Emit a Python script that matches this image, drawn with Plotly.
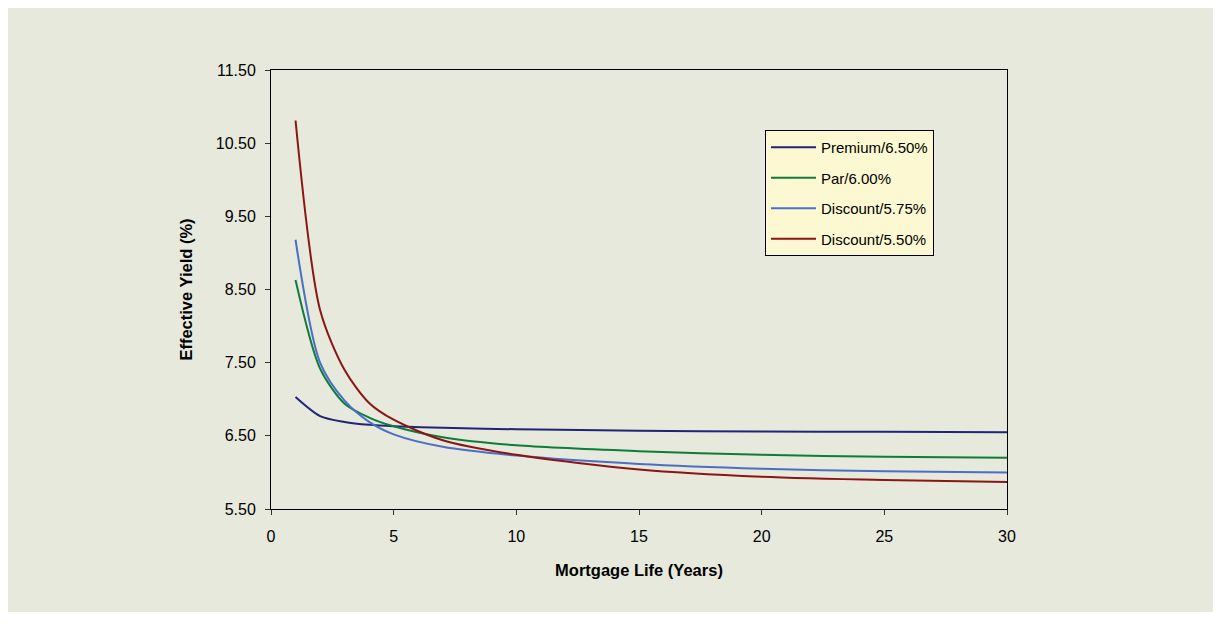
import plotly.graph_objects as go

years = [1, 2, 3, 4, 5, 7, 10, 15, 20, 25, 30]
premium_650 = [7.03, 6.77, 6.69, 6.65, 6.63, 6.61, 6.59, 6.57, 6.56, 6.555, 6.55]
par_600 = [8.63, 7.42, 6.94, 6.75, 6.63, 6.48, 6.37, 6.29, 6.24, 6.215, 6.20]
discount_575 = [9.18, 7.50, 6.98, 6.69, 6.52, 6.35, 6.23, 6.115, 6.05, 6.015, 6.00]
discount_550 = [10.81, 8.22, 7.40, 6.95, 6.72, 6.44, 6.24, 6.04, 5.94, 5.895, 5.87]

series_names = ["Premium/6.50%", "Par/6.00%", "Discount/5.75%", "Discount/5.50%"]
series_values = [premium_650, par_600, discount_575, discount_550]
series_colors = ["#23237A", "#0E7D3B", "#4A6FC4", "#8B1515"]

x_ticks = [0, 5, 10, 15, 20, 25, 30]
y_ticks = [5.5, 6.5, 7.5, 8.5, 9.5, 10.5, 11.5]

FONT = "Liberation Sans, Arial, sans-serif"

fig = go.Figure()
for i, (name, vals, col) in enumerate(zip(series_names, series_values, series_colors)):
    fig.add_trace(go.Scatter(
        x=years, y=vals, name=name, mode="lines",
        line=dict(color=col, width=2, shape="spline", smoothing=0.8),
        legendgroup=f"g{i}",
    ))

# page body adds an 8px offset, so figure coordinates are screen - 8
OFF = 8
W, H = 1221 - OFF, 625 - OFF
L, R, T, B = 271 - OFF, 1007 - OFF, 70 - OFF, 509 - OFF
pw, ph = R - L, B - T

fig.add_shape(
    type="rect", xref="paper", yref="paper", layer="below",
    x0=(7 - OFF - L) / pw, x1=(W + 20 - L) / pw,
    y0=(B - (612 - OFF)) / ph, y1=(B - (8 - OFF)) / ph,
    fillcolor="#E6E9DC", line=dict(width=0),
)

fig.update_layout(
    width=W, height=H,
    margin=dict(l=L, r=W - R, t=T, b=H - B, pad=0),
    paper_bgcolor="white",
    plot_bgcolor="#FCF9D2",
    font=dict(family=FONT, size=16, color="#000000"),
    showlegend=True,
    legend=dict(
        x=(765 - OFF - L) / pw, y=(B - (130 - OFF)) / ph, xanchor="left", yanchor="top",
        bgcolor="#FCF9D2", bordercolor="#000000", borderwidth=1,
        font=dict(family=FONT, size=15, color="#000000"),
        tracegroupgap=8,
        itemwidth=45,
        entrywidth=129,
    ),
    xaxis=dict(
        range=[0, 30], tickvals=x_ticks, ticktext=[str(v) for v in x_ticks],
        showgrid=False, zeroline=False, showline=True, linecolor="#000000", linewidth=1,
        mirror=True, ticks="outside", ticklen=5, tickcolor="#333333",
        tickfont=dict(size=16), ticklabelstandoff=8,
        title=dict(text="<b>Mortgage Life (Years)</b>", font=dict(size=16.5), standoff=20),
    ),
    yaxis=dict(
        range=[5.5, 11.5], tickvals=y_ticks, ticktext=[f"{v:.2f}" for v in y_ticks],
        showgrid=False, zeroline=False, showline=True, linecolor="#000000", linewidth=1,
        mirror=True, ticks="outside", ticklen=5, tickcolor="#333333",
        tickfont=dict(size=16), ticklabelstandoff=6,
        title=dict(text="<b>Effective Yield (%)</b>", font=dict(size=16.5), standoff=18),
    ),
)

fig.write_html("out.html")
